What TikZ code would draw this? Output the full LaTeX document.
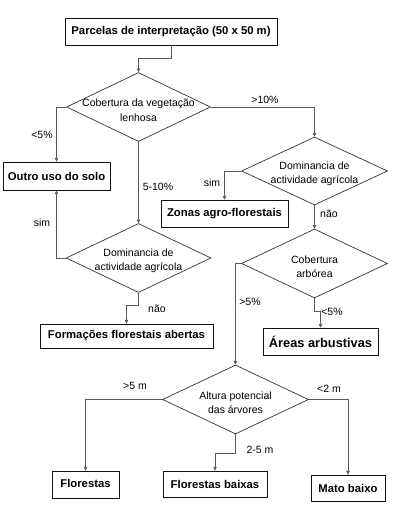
\documentclass[tikz,border=0pt]{standalone}
\usepackage{fontspec}
\setmainfont{Liberation Sans}
\usepackage{tikz}
\usetikzlibrary{arrows.meta,shapes.geometric}
\definecolor{wire}{HTML}{5A5A5A}
\definecolor{frame}{HTML}{111111}
\newcommand{\boxfont}{\fontsize{11.3}{13}\selectfont\bfseries}
\newcommand{\qfont}{\fontsize{10.5}{14.5}\selectfont}

\begin{document}
\begin{tikzpicture}[x=1pt,y=-1pt,
  box/.style={draw=frame,line width=0.9pt,inner sep=0pt,font=\boxfont},
  query/.style={shape=diamond,draw=frame!85,line width=0.7pt,inner sep=0pt},
  qtext/.style={font=\qfont,align=center,yshift=-3pt},
  lab/.style={font=\qfont,inner sep=0pt},
  flow/.style={draw=wire,line width=0.7pt,-{Triangle[width=3.6pt,length=3.6pt]}}]
  \useasboundingbox (0,0) rectangle (403,518);

  % boxes
  \node[box,minimum width=212pt,minimum height=27pt] (parcel) at (171,31.5) {Parcelas de interpretação (50 x 50 m)};
  \node[box,minimum width=107pt,minimum height=28pt] (outro) at (56.5,176) {Outro uso do solo};
  \node[box,minimum width=127pt,minimum height=27pt] (agro) at (224.5,213.5) {Zonas agro-florestais};
  \node[box,minimum width=173pt,minimum height=24pt] (abertas) at (126.5,336) {Formações florestais abertas};
  \node[box,minimum width=115pt,minimum height=27pt,font=\fontsize{12.8}{15}\selectfont\bfseries] (arbust) at (320.5,341.5) {Áreas arbustivas};
  \node[box,minimum width=67pt,minimum height=27pt] (flor) at (85.5,484.5) {\raisebox{3pt}{Florestas}};
  \node[box,minimum width=104pt,minimum height=26pt] (baixas) at (215,484) {Florestas baixas};
  \node[box,minimum width=74pt,minimum height=26pt] (mato) at (348,488) {Mato baixo};

  % decisions
  \node[query,minimum width=144pt,minimum height=69pt,
    label={[qtext]center:{Cobertura da vegetação\\lenhosa}}] (lenhosa) at (138.5,107) {};
  \node[query,minimum width=146pt,minimum height=68pt,
    label={[qtext]center:{Dominancia de\\actividade agrícola}}] (agricR) at (314.5,171) {};
  \node[query,minimum width=145pt,minimum height=69pt,
    label={[qtext]center:{Dominancia de\\actividade agrícola}}] (agricL) at (138.5,258) {};
  \node[query,minimum width=146pt,minimum height=69pt,
    label={[qtext]center:{Cobertura\\arbórea}}] (arborea) at (314.5,263.5) {};
  \node[query,minimum width=146pt,minimum height=69pt,
    label={[qtext]center:{Altura potencial\\das árvores}}] (altura) at (235.5,399.5) {};

  % connectors
  \draw[flow] (parcel.south) -- ++(0,13) -| (lenhosa.north);
  \draw[flow] (lenhosa.west) -| (outro.north);
  \draw[flow] (lenhosa.east) -| (agricR.north);
  \draw[flow] (lenhosa.south) -- (agricL.north);
  \draw[flow] (agricR.west) -| (agro.north);
  \draw[flow] (agricR.south) -- (arborea.north);
  \draw[flow] (agricL.west) -| (outro.south);
  \draw[flow] (agricL.south) -- ++(0,12) -| (abertas.north);
  \draw[flow] (arborea.west) -| (altura.north);
  \draw[flow] (arborea.south) -- ++(0,13) -| (arbust.north);
  \draw[flow] (altura.west) -| (flor.north);
  \draw[flow] (altura.south) -- ++(0,19) -| (baixas.north);
  \draw[flow] (altura.east) -| (mato.north);

  % branch labels
  \node[lab] (lt5) at (42,135) {<5\%};
  \node[lab] (gt10) at (265,99.5) {>10\%};
  \node[lab] (mid) at (158,187) {5-10\%};
  \node[lab] (simR) at (212,183) {sim};
  \node[lab] (naoR) at (329,214) {não};
  \node[lab] (simL) at (42,223) {sim};
  \node[lab] (naoL) at (157,309) {não};
  \node[lab] (gt5) at (250,302) {>5\%};
  \node[lab] (lt5b) at (332,312) {<5\%};
  \node[lab] (gt5m) at (135,386) {>5 m};
  \node[lab] (mid5m) at (260,450) {2-5 m};
  \node[lab] (lt2m) at (329,389) {<2 m};
\end{tikzpicture}
\end{document}
